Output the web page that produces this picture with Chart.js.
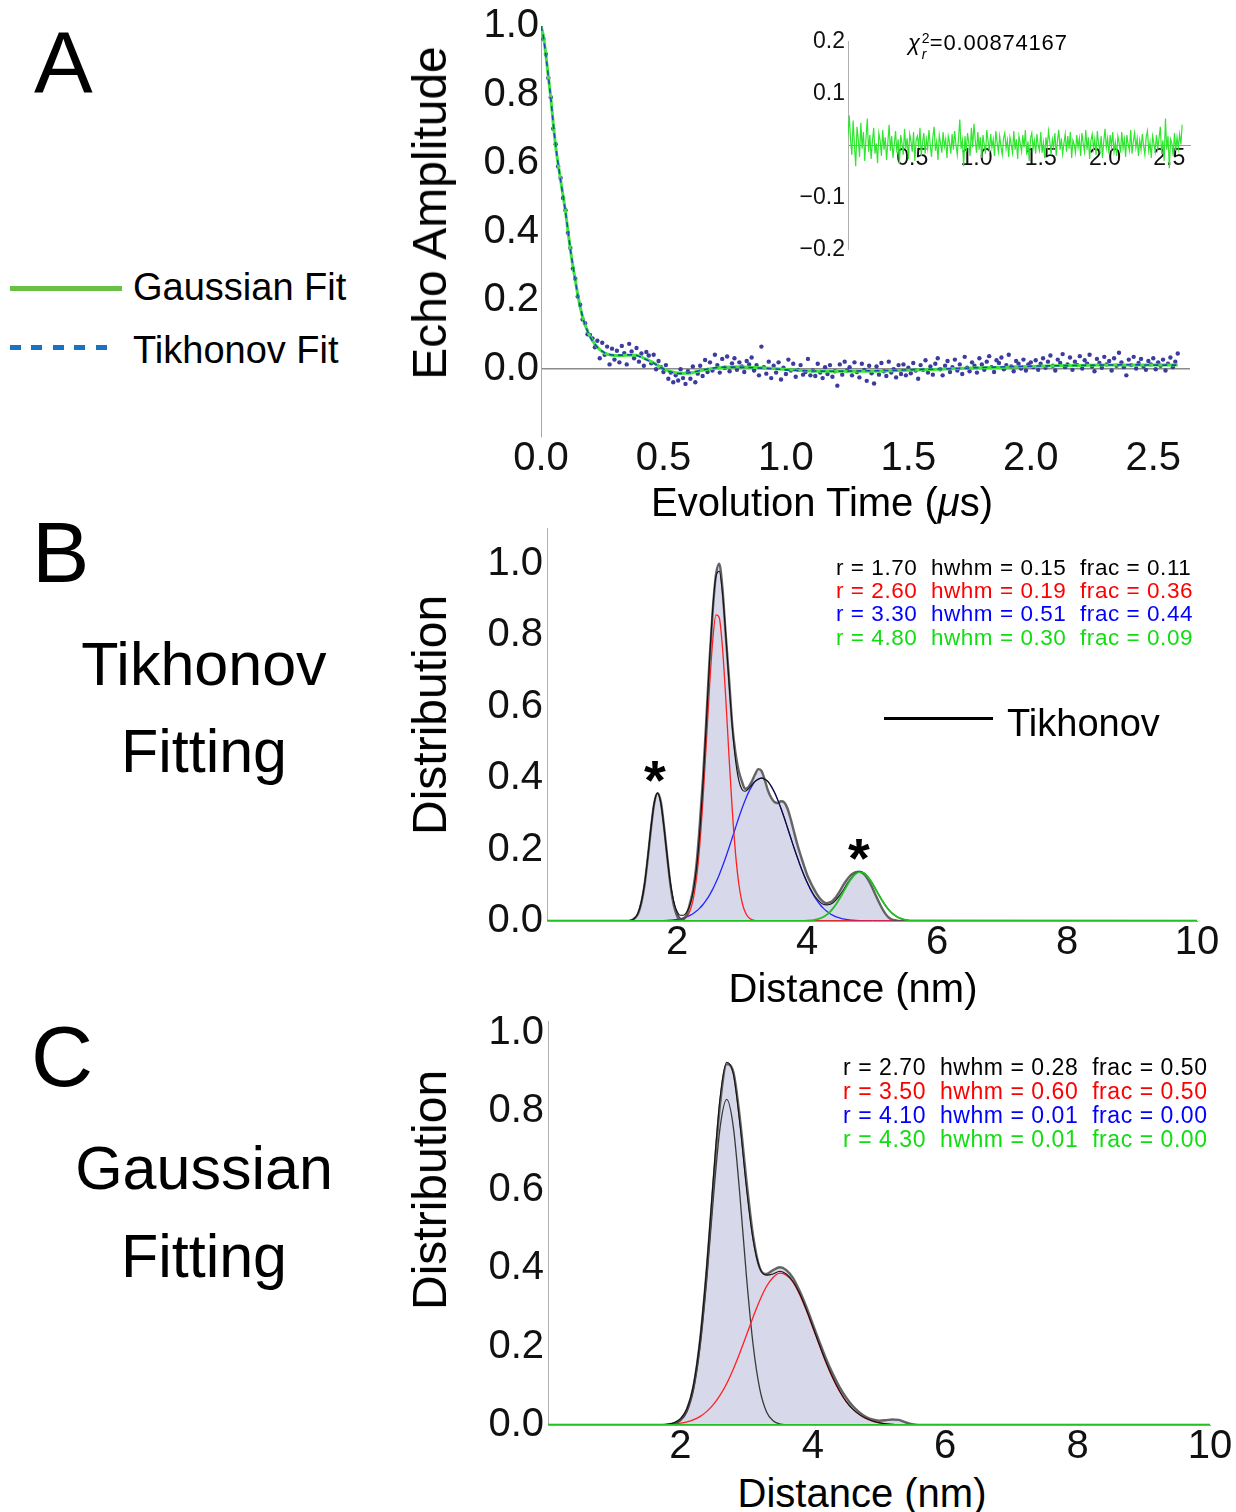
<!DOCTYPE html>
<html><head><meta charset="utf-8">
<script src="https://cdn.jsdelivr.net/npm/chart.js@4.4.1/dist/chart.umd.min.js"></script>
<style>
html,body{margin:0;padding:0;background:#fff;}
body{width:1236px;height:1512px;position:relative;overflow:hidden;font-family:"Liberation Sans",Arial,Helvetica,sans-serif;color:#000;}
canvas{position:absolute;}
.t{position:absolute;line-height:1;white-space:pre;z-index:5;}
.rot{position:absolute;line-height:1;white-space:pre;transform:translate(-50%,-50%) rotate(-90deg);z-index:5;}
</style></head><body>
<script>
// ---------------- Panel A data ----------------
const echoStart = 0, echoStep = 0.01;
const echoData = [
 1.000,.962,.918,.848,.792,.700,.655,.590,.556,.498,.462,.396,.352,.292,.262,.210,.186,.143,.132,.100,.098,.088,.062,.081,.030,.075,.040,.064,.012,.058,.026,
 .052,.018,.066,.045,.012,.072,.050,.030,.060,.020,.044,.008,.048,.038,.015,.040,-.002,.022,.004,-.010,.010,-.030,-.012,-.040,-.020,-.035,-.002,-.028,-.045,-.008,-.030,.006,-.040,-.015,.008,-.022,.025,-.010,.018,-.006,.040,.010,-.012,.028,.002,.035,-.008,.015,.030,-.004,
 .018,.006,-.010,.022,.012,.032,-.006,.010,-.020,.064,.004,-.015,.020,-.028,.008,-.012,.018,-.032,.002,-.016,.026,-.006,.014,-.024,-.004,.010,-.018,-.010,.028,-.020,-.006,-.022,.014,-.012,-.028,.004,-.016,.010,-.024,-.008,-.050,.012,-.018,.020,-.006,.004,-.020,.018,-.010,-.026,.014,-.004,-.036,.008,-.014,-.044,.006,-.018,.016,-.008,-.022,.020,-.012,-.002,-.026,.010,-.016,.012,-.020,.002,
 -.014,.016,-.006,-.030,.010,-.004,.024,-.012,.006,-.018,.014,.030,-.002,-.020,.008,.022,-.010,.004,.026,-.006,.012,-.016,.034,.002,-.008,.018,.008,-.012,.030,.012,-.004,.020,.036,.004,-.010,.024,.016,.032,-.002,.010,.040,.006,-.008,.022,.014,.000,.026,-.006,.012,.018,
 .004,.024,-.004,.014,.030,.002,.020,.038,.008,-.006,.026,.016,.042,.004,.012,.032,-.004,.020,.010,.036,.000,.024,.014,.040,.006,-.008,.028,.016,.002,.034,.012,.022,-.006,.030,.008,.046,.018,.004,-.020,.026,.010,.034,.000,.016,.028,.006,-.004,.022,.012,.030,-.002,.018,.008,.026,-.006,.014,.032,.004,.020,.044
];
const residuals = [
 .020,.058,.010,-.018,.048,.002,-.040,.036,.012,-.022,.044,-.006,.026,-.030,.014,.052,-.012,.020,-.026,.008,.034,-.016,.004,-.034,.024,.010,-.020,.030,-.008,.016,
 -.028,.006,.040,-.010,.018,-.024,.002,.028,-.014,.012,-.036,.020,.004,-.018,.032,-.006,.014,-.026,.022,.008,-.012,.026,-.030,.010,.018,-.004,.034,-.020,.006,.024,
 -.016,.012,-.006,.030,.000,-.022,.016,.036,-.010,.008,-.028,.020,.004,-.014,.026,-.002,.012,-.024,.018,.006,-.016,.022,-.008,.028,.002,-.018,.014,.050,-.006,.010,
 -.040,.018,-.012,.024,.004,-.020,.034,-.004,.042,.010,-.014,.026,-.008,.016,-.024,.020,.002,-.016,.030,.008,-.010,.022,-.004,.012,-.020,.028,.006,-.012,.018,-.002,
 -.018,.014,.024,-.006,.010,-.022,.016,.002,-.014,.028,-.008,.012,-.026,.018,.004,-.012,.020,-.004,.030,-.018,.008,-.030,.014,.024,-.006,.010,-.016,.022,.000,-.010,
 .026,-.014,.006,-.024,.016,-.004,.028,.008,-.018,.012,-.002,.024,-.020,.010,.030,-.008,.014,-.016,.004,.022,-.012,.018,-.006,.026,-.024,.010,.002,-.014,.020,-.004,
 .014,-.020,.024,.004,-.012,.030,-.008,.016,-.026,.010,.022,-.006,.012,-.018,.028,.002,-.010,.018,-.024,.008,.032,-.004,.014,-.016,.020,-.002,.026,-.012,.006,-.020,
 .018,.004,-.014,.026,-.006,.012,-.022,.020,.002,-.010,.030,-.016,.008,.024,-.004,.014,-.020,.010,-.008,.022,.000,-.018,.016,.028,-.010,.006,-.024,.018,.004,-.012,
 .020,-.006,.014,.036,-.016,.010,-.030,.052,-.008,.018,-.044,.012,.004,-.020,.024,-.010,.016,-.006,.022,.002,.040
];
const fitTimes = [0,.01,.02,.03,.04,.05,.06,.07,.08,.09,.10,.11,.12,.13,.14,.15,.16,.17,.18,.19,.20,
 .22,.24,.26,.28,.30, .33,.36,.39,.42,.45,.48,.51,.54,.57,.60,.63,.66, .70,.75,.80,.85,.90,.95,1.0,
 1.1,1.2,1.3,1.4,1.5,1.6,1.7,1.8,1.9,2.0,2.1,2.2,2.3,2.4,2.5,2.6];
const gaussianFit = [1.000,.970,.915,.852,.790,.715,.648,.597,.550,.505,.458,.402,.347,.300,.258,.216,.180,.150,.128,.110,.094,
 .071,.055,.045,.040,.038, .038,.039,.039,.030,.020,.008,-.004,-.011,-.014,-.014,-.010,-.005, .000,.004,.005,.004,.002,.000,-.003,
 -.007,-.008,-.008,-.007,-.005,-.003,.000,.002,.004,.006,.008,.009,.010,.010,.010,.010];
const tikhonovFit = [1.000,.968,.914,.853,.789,.716,.650,.598,.549,.504,.457,.403,.348,.301,.257,.215,.181,.151,.127,.109,.093,
 .070,.056,.046,.041,.039, .039,.040,.038,.029,.019,.007,-.005,-.012,-.015,-.013,-.009,-.004, .001,.004,.004,.003,.001,-.001,-.004,
 -.007,-.008,-.007,-.006,-.004,-.002,.000,.003,.005,.007,.008,.009,.010,.011,.010,.010];
const chiSquared = "0.00874167";

// ---------------- Panel B data (Tikhonov fitting) ----------------
const bGridStart = 1.20, bGridStep = 0.05, bGridCount = 89;
const bTikhonov = [0,
 0,0,.002,.008,.020,.050,.100,.175,.260,.330,
 .358,.335,.265,.180,.100,.045,.015,.004,.006,.018,
 .050,.090,.160,.270,.400,.560,.730,.870,.970,1.000,
 .930,.800,.680,.550,.470,.420,.390,.370,.375,.390,
 .410,.425,.420,.395,.365,.345,.333,.330,.335,.332,
 .315,.285,.250,.215,.185,.157,.130,.110,.092,.076,
 .063,.054,.050,.052,.058,.068,.082,.098,.112,.124,
 .132,.137,.138,.135,.127,.113,.095,.075,.055,.037,
 .022,.011,.005,.002,.0005,0,0,0,0,
 0];
const bGaussSum = [0,
 .0002,.0007,.0025,.008,.022,.052,.103,.178,.262,.331,
 .358,.332,.263,.180,.105,.055,.027,.016,.016,.025,
 .045,.083,.148,.248,.386,.553,.727,.875,.965,.979,
 .917,.803,.667,.544,.451,.394,.368,.363,.370,.381,
 .391,.397,.400,.397,.390,.377,.360,.339,.315,.289,
 .261,.233,.205,.179,.153,.130,.109,.091,.075,.063,
 .053,.047,.045,.046,.051,.060,.071,.084,.099,.113,
 .125,.133,.138,.137,.131,.121,.107,.091,.075,.059,
 .045,.033,.023,.016,.010,.0065,.004,.0023,.0013,
 0];
const bComp1 = [0,
 .0002,.0007,.0025,.008,.022,.052,.103,.178,.262,.331,
 .358,.331,.262,.178,.103,.052,.022,.008,.0025,.0007,
 .0002,0,0,0,0,0,0,0,0,0,
 0,0,0,0,0,0,0,0,0,0,
 0,0,0,0,0,0,0,0,0,0,
 0,0,0,0,0,0,0,0,0,0,
 0,0,0,0,0,0,0,0,0,0,
 0,0,0,0,0,0,0,0,0,0,
 0,0,0,0,0,0,0,0,0,
 0];
const bComp2 = [0,
 0,0,0,0,0,0,0,0,0,0,
 0,0,0,0,0,0,.0005,.0016,.0047,.0122,
 .0287,.0614,.1197,.2115,.340,.495,.654,.786,.857,.849,
 .764,.624,.462,.311,.190,.105,.053,.0243,.0101,.0038,
 .0013,.0004,0,0,0,0,0,0,0,0,
 0,0,0,0,0,0,0,0,0,0,
 0,0,0,0,0,0,0,0,0,0,
 0,0,0,0,0,0,0,0,0,0,
 0,0,0,0,0,0,0,0,0,
 0];
const bComp3 = [0,
 0,0,0,0,0,0,0,0,.0002,.0003,
 .0004,.0007,.001,.0015,.0021,.0031,.0044,.0062,.0086,.0118,
 .0159,.0212,.0278,.036,.0461,.0582,.0726,.0892,.1083,.1296,
 .153,.1785,.205,.233,.261,.289,.315,.339,.360,.377,
 .390,.397,.400,.397,.390,.377,.360,.339,.315,.289,
 .261,.233,.205,.1785,.153,.1296,.1083,.0892,.0726,.0582,
 .0461,.036,.0278,.0212,.0159,.0118,.0086,.0062,.0044,.0031,
 .0021,.0015,.001,.0007,.0004,.0003,.0002,0,0,0,
 0,0,0,0,0,0,0,0,0,
 0];
const bComp4 = [0,
 0,0,0,0,0,0,0,0,0,0,
 0,0,0,0,0,0,0,0,0,0,
 0,0,0,0,0,0,0,0,0,0,
 0,0,0,0,0,0,0,0,0,0,
 0,0,0,0,0,0,0,0,0,0,
 0,0,0,.0002,.0003,.0005,.0008,.0014,.0025,.0043,
 .0071,.0112,.0171,.0251,.0353,.0478,.0623,.0782,.0944,.1097,
 .1226,.1319,.1366,.1361,.1304,.1203,.1068,.0912,.0749,.0593,
 .0451,.0330,.0233,.0158,.0103,.0065,.0039,.0023,.0013,
 0];
const bPeakR = [1.70, 2.60, 3.30, 4.80];
const bPeakHwhm = [0.15, 0.19, 0.51, 0.30];
const bPeakFrac = [0.11, 0.36, 0.44, 0.09];

// ---------------- Panel C data (Gaussian fitting) ----------------
const cGridStart = 1.6, cGridStep = 0.1, cGridCount = 41;
const cTikhonov = [0,
 0,0,.001,.004,.014,.040,.100,.220,.400,.620,
 .820,.920,.900,.780,.620,.480,.400,.385,.395,.402,
 .395,.375,.342,.302,.257,.212,.169,.131,.098,.071,
 .049,.033,.021,.014,.011,.012,.014,.013,.007,.002,
 0,
 0];
const cGaussSum = [0,
 .0003,.0008,.002,.0055,.016,.042,.105,.224,.409,.635,
 .835,.925,.895,.765,.600,.470,.400,.382,.385,.392,
 .385,.366,.335,.295,.250,.204,.160,.121,.088,.061,
 .041,.027,.017,.010,.006,.003,.0017,.0009,.0004,.0002,
 .0001,
 0];
const cComp1 = [0,
 0,.0001,.0007,.003,.011,.034,.091,.202,.374,.583,
 .759,.830,.759,.583,.374,.202,.091,.034,.011,.003,
 .0007,.0001,0,0,0,0,0,0,0,0,
 0,0,0,0,0,0,0,0,0,0,
 0,
 0];
const cComp2 = [0,
 .0003,.0007,.0013,.0025,.0046,.0080,.0136,.0221,.0347,.0524,
 .0760,.106,.143,.185,.230,.276,.318,.353,.376,.387,
 .382,.364,.333,.293,.248,.203,.159,.120,.087,.061,
 .041,.0266,.0166,.010,.0057,.0032,.0017,.0009,.0004,.0002,
 .0001,
 0];
const cComp3 = [0, 0,0,0,0,0,0,0,0,0,0, 0,0,0,0,0,0,0,0,0,0, 0,0,0,0,0,0,0,0,0,0, 0,0,0,0,0,0,0,0,0,0, 0, 0];
const cComp4 = [0, 0,0,0,0,0,0,0,0,0,0, 0,0,0,0,0,0,0,0,0,0, 0,0,0,0,0,0,0,0,0,0, 0,0,0,0,0,0,0,0,0,0, 0, 0];
const cPeakR = [2.70, 3.50, 4.10, 4.30];
const cPeakHwhm = [0.28, 0.60, 0.01, 0.01];
const cPeakFrac = [0.50, 0.50, 0.00, 0.00];

// ---------------- derived sample positions ----------------
const echoTimes = echoData.map((_, i) => +(echoStart + i * echoStep).toFixed(2));
const bDistance = [0, ...Array.from({length: bGridCount}, (_, i) => +(bGridStart + i * bGridStep).toFixed(2)), 10];
const cDistance = [0, ...Array.from({length: cGridCount}, (_, i) => +(cGridStart + i * cGridStep).toFixed(2)), 10];
[bTikhonov,bGaussSum,bComp1,bComp2,bComp3,bComp4].forEach((a,i)=>{ if(a.length!==bDistance.length) console.error('B array '+i+' length '+a.length+' vs '+bDistance.length); });
[cTikhonov,cGaussSum,cComp1,cComp2,cComp3,cComp4].forEach((a,i)=>{ if(a.length!==cDistance.length) console.error('C array '+i+' length '+a.length+' vs '+cDistance.length); });
if (residuals.length !== echoData.length) console.error('residual length ' + residuals.length + ' vs ' + echoData.length);

const xy = (xs, ys) => xs.map((x, i) => ({x: x, y: ys[i]}));

// ---------------- helpers ----------------
const FONT = '"Liberation Sans", Arial, Helvetica, sans-serif';
Chart.defaults.font.family = FONT;
Chart.defaults.color = '#111';

function makeCanvas(left, top, w, h) {
  const c = document.createElement('canvas');
  c.width = w; c.height = h;
  c.style.left = left + 'px'; c.style.top = top + 'px';
  c.style.width = w + 'px'; c.style.height = h + 'px';
  document.body.appendChild(c);
  return c;
}
function txt(s, o) {
  const d = document.createElement('div');
  d.className = 't';
  if (o.html) d.innerHTML = s; else d.textContent = s;
  d.style.fontSize = o.size + 'px';
  d.style.top = (o.base - 0.8465 * o.size) + 'px';
  if (o.center !== undefined) { d.style.left = (o.center - 400) + 'px'; d.style.width = '800px'; d.style.textAlign = 'center'; }
  else d.style.left = o.left + 'px';
  if (o.color) d.style.color = o.color;
  if (o.weight) d.style.fontWeight = o.weight;
  if (o.ls) d.style.letterSpacing = o.ls + 'px';
  document.body.appendChild(d);
  return d;
}
function rot(s, cx, cy, size) {
  const d = document.createElement('div');
  d.className = 'rot';
  d.textContent = s;
  d.style.fontSize = size + 'px';
  d.style.left = cx + 'px'; d.style.top = cy + 'px';
  document.body.appendChild(d);
}
function box(left, top, w, h, bg) {
  const d = document.createElement('div');
  d.style.cssText = 'position:absolute;left:'+left+'px;top:'+top+'px;width:'+w+'px;height:'+h+'px;background:'+bg+';z-index:5;';
  document.body.appendChild(d);
}
const lineDS = (label, data, color, width, order, extra) => Object.assign({
  label, data, showLine: true, borderColor: color, borderWidth: width, pointRadius: 0,
  fill: false, order, cubicInterpolationMode: 'monotone'
}, extra || {});
const baseOpts = (padding, scales) => ({
  responsive: false, animation: false, devicePixelRatio: 1, events: [],
  layout: {padding},
  plugins: {legend: {display: false}, tooltip: {enabled: false}},
  scales
});
const yFmt = v => (Math.abs(v) < 1e-9 ? 0 : v).toFixed(1);

// ---------------- Chart A (main) ----------------
new Chart(makeCanvas(441, 0, 779, 482), {
  type: 'scatter',
  data: {datasets: [
    lineDS('Tikhonov Fit', xy(fitTimes, tikhonovFit), '#2347b5', 1.6, 1, {borderDash: [5, 4]}),
    lineDS('Gaussian Fit', xy(fitTimes, gaussianFit), '#3de63d', 3, 2),
    {label: 'Data', data: xy(echoTimes, echoData), pointRadius: 2.2, pointBorderWidth: 0,
     pointBackgroundColor: '#3c3c9e', order: 3}
  ]},
  options: baseOpts({top: 25, right: 30, left: 0, bottom: 0}, {
    x: {type: 'linear', min: 0, max: 2.65, position: 'bottom',
        grid: {display: false, drawTicks: false}, border: {display: false},
        ticks: {stepSize: 0.5, includeBounds: false, padding: 0, autoSkip: false, maxRotation: 0,
                font: {size: 40, lineHeight: 1.1}, callback: v => yFmt(v)},
        afterFit: s => { s.height = 45; }},
    y: {type: 'linear', min: -0.2, max: 1.0,
        grid: {drawTicks: false, lineWidth: 1.4,
               color: c => (c.tick && Math.abs(c.tick.value) < 1e-9) ? '#8a8a8a' : 'rgba(0,0,0,0)'},
        border: {display: true, color: '#a8a8a8', width: 1},
        ticks: {stepSize: 0.2, padding: 2, font: {size: 40}, callback: v => v < -1e-9 ? '' : yFmt(v)},
        afterFit: s => { s.width = 100; }}
  })
});

// ---------------- Chart A inset (residuals) ----------------
const minusFmt = v => Math.abs(v) < 1e-9 ? '' : (v < 0 ? '\u2212' + Math.abs(v).toFixed(1) : v.toFixed(1));
new Chart(makeCanvas(788, 25, 422, 241), {
  type: 'scatter',
  data: {datasets: [
    lineDS('Residual', xy(echoTimes, residuals), '#2ee62e', 1.2, 1, {cubicInterpolationMode: 'default', tension: 0})
  ]},
  options: baseOpts({top: 15, right: 20, left: 0, bottom: 10}, {
    x: {type: 'linear', min: 0, max: 2.661, position: {y: 0},
        grid: {display: false, drawTicks: false}, border: {display: true, color: '#9a9a9a', width: 1},
        ticks: {stepSize: 0.5, includeBounds: false, padding: 1, autoSkip: false, maxRotation: 0,
                font: {size: 23, lineHeight: 1.1}, callback: v => v < 1e-9 ? '' : v.toFixed(1)}},
    y: {type: 'linear', min: -0.2, max: 0.2,
        grid: {display: false, drawTicks: false}, border: {display: true, color: '#b0b0b0', width: 1},
        ticks: {stepSize: 0.1, padding: 3, font: {size: 23}, callback: minusFmt},
        afterFit: s => { s.width = 60; }}
  })
});

// ---------------- Distribution chart builder ----------------
function distChart(left, top, w, h, plotW, ymax, dist, tik, sum, c1, c2, c3, c4) {
  new Chart(makeCanvas(left, top, w, h), {
    type: 'scatter',
    data: {datasets: [
      lineDS('Tikhonov area', xy(dist, tik), 'rgba(0,0,0,0)', 0, 10, {fill: 'origin', backgroundColor: 'rgb(216,216,235)'}),
      lineDS('Component 1', xy(dist, c1), '#3a3a3a', 1.3, 6),
      lineDS('Component 2', xy(dist, c2), '#ff2020', 1.3, 5),
      lineDS('Component 3', xy(dist, c3), '#2626ff', 1.3, 5),
      lineDS('Tikhonov', xy(dist, tik), 'rgba(75,75,75,0.85)', 2.4, 3),
      lineDS('Gaussian sum', xy(dist, sum), '#111', 1.1, 2),
      lineDS('Component 4', xy(dist, c4), '#22c022', 1.8, 0)
    ]},
    options: baseOpts({top: 25, right: w - 100 - plotW, left: 0, bottom: 0}, {
      x: {type: 'linear', min: 0, max: 10, position: 'bottom',
          grid: {display: false, drawTicks: false}, border: {display: true, color: '#9a9a9a', width: 1},
          ticks: {stepSize: 2, padding: 0, autoSkip: false, maxRotation: 0,
                  font: {size: 40, lineHeight: 1.1}, callback: v => v === 0 ? '' : String(v)},
          afterFit: s => { s.height = 45; }},
      y: {type: 'linear', min: 0, max: ymax,
          grid: {display: false, drawTicks: false}, border: {display: true, color: '#b0b0b0', width: 1},
          ticks: {stepSize: 0.2, includeBounds: false, padding: 4, font: {size: 40}, callback: yFmt},
          afterFit: s => { s.width = 100; }}
    })
  });
}
distChart(447, 500, 785, 466, 650, 1.1, bDistance, bTikhonov, bGaussSum, bComp1, bComp2, bComp3, bComp4);
distChart(448, 993, 788, 477, 662, 1.03, cDistance, cTikhonov, cGaussSum, cComp1, cComp2, cComp3, cComp4);

// ---------------- Texts ----------------
txt('A', {left: 34, base: 93, size: 88});
txt('B', {left: 32, base: 582, size: 86});
txt('C', {left: 31, base: 1086, size: 86});

// legend of panel A
box(10, 286, 112, 5, '#6abf45');
txt('Gaussian Fit', {left: 133, base: 300, size: 38});
box(10, 345, 102, 5, 'repeating-linear-gradient(90deg,#1a72c4 0px,#1a72c4 11px,transparent 11px,transparent 21.5px)');
txt('Tikhonov Fit', {left: 133, base: 363, size: 38});

rot('Echo Amplitude', 430, 213, 48);
txt('Evolution Time (<i>\u03bc</i>s)', {center: 822, base: 516, size: 40, html: true});
txt('<i>\u03c7</i><span style="display:inline-block;position:relative;width:9px;height:10px;"><span style="position:absolute;left:1px;top:-9px;font-size:14px">2</span><span style="position:absolute;left:1px;top:7px;font-size:14px;font-style:italic">r</span></span>=' + chiSquared,
    {left: 908, base: 51, size: 22, html: true, ls: 0.8});

// panel B
txt('Tikhonov', {center: 204, base: 686, size: 61});
txt('Fitting', {center: 204, base: 773, size: 61});
rot('Distribution', 430, 715, 48);
txt('Distance (nm)', {center: 853, base: 1002, size: 40});
const rowColors = ['#000000', '#ff0000', '#0000ff', '#11dd11'];
const rowText = (r, h, f) => 'r = ' + r.toFixed(2) + '  hwhm = ' + h.toFixed(2) + '  frac = ' + f.toFixed(2);
[576, 599, 622, 646].forEach((b, i) => txt(rowText(bPeakR[i], bPeakHwhm[i], bPeakFrac[i]), {left: 836, base: b, size: 22.5, color: rowColors[i], ls: 0.55}));
box(884, 717, 109, 3, '#000');
txt('Tikhonov', {left: 1007, base: 736, size: 38});
txt('*', {center: 655, base: 799, size: 56, weight: 'bold'});
txt('*', {center: 859, base: 877, size: 56, weight: 'bold'});

// panel C
txt('Gaussian', {center: 204, base: 1190, size: 61});
txt('Fitting', {center: 204, base: 1278, size: 61});
rot('Distribution', 430, 1190, 48);
txt('Distance (nm)', {center: 862, base: 1507, size: 40});
[1075, 1099, 1123, 1147].forEach((b, i) => txt(rowText(cPeakR[i], cPeakHwhm[i], cPeakFrac[i]), {left: 843, base: b, size: 23, color: rowColors[i], ls: 0.55}));
</script>
</body></html>
